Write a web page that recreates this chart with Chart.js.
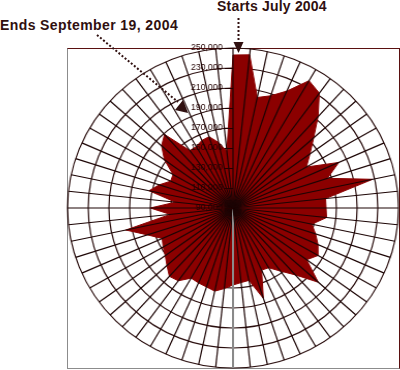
<!DOCTYPE html>
<html>
<head>
<meta charset="utf-8">
<script src="https://cdn.jsdelivr.net/npm/chart.js@4.4.1/dist/chart.umd.min.js"></script>
<style>
  body { margin: 0; width: 400px; height: 370px; background: #fff; position: relative; overflow: hidden; font-family: Arial, "Liberation Sans", sans-serif; }
  .frame { position: absolute; left: 67px; top: 48px; width: 331px; height: 319px;
           border-top: 1px solid #5a1010; border-right: 1px solid #5a1010;
           border-left: 1px solid #8c8c8c; border-bottom: 1px solid #8c8c8c; }
  .wrap { position: absolute; left: 62.5px; top: 38px; width: 340px; height: 340px;
          transform: scaleX(1.034); transform-origin: 170px 170px; }
  .note { position: absolute; font-weight: bold; font-size: 14px; color: #301010; white-space: nowrap; line-height: 14px; }
  svg { position: absolute; left: 0; top: 0; }
</style>
</head>
<body>
<div class="frame"></div>
<div class="wrap"><canvas id="chart"></canvas></div>
<div class="note" style="left:217px; top:-1px; letter-spacing:0.2px;">Starts July 2004</div>
<div class="note" style="left:0px; top:18px; letter-spacing:0.4px;">Ends September 19, 2004</div>
<svg width="400" height="370">
  <line x1="238.5" y1="18" x2="238.5" y2="42" stroke="#301010" stroke-width="2" stroke-dasharray="2 2"/>
  <polygon points="233.5,42 243.5,42 238.5,53" fill="#301010"/>
  <line x1="97" y1="35" x2="178" y2="102" stroke="#301010" stroke-width="2" stroke-dasharray="2 2"/>
  <polygon points="188,113 175,110 183,100" fill="#301010"/>
</svg>
<script>
// 60 periods from July 2004 to Sept 19, 2004 (clockwise from the top)
const periods = ['1','2','3','4','5','6','7','8','9','10','11','12','13','14','15','16','17','18','19','20',
  '21','22','23','24','25','26','27','28','29','30','31','32','33','34','35','36','37','38','39','40',
  '41','42','43','44','45','46','47','48','49','50','51','52','53','54','55','56','57','58','59','60'];

const values = [
  243000, 244000, 203000, 208000, 218000, 237000, 232000, 213000, 195000, 182000,
  172000, 202000, 186000, 228000, 180000, 180000, 181000, 168000, 174000, 180000,
  185000, 178000, 201000, 180000, 168000, 159000, 158000, 185000, 164000, 165000,
  167000, 171000, 175000, 173000, 172000, 171000, 180000, 182000, 176000, 171000,
  168000, 165000, 177000, 196000, 151000, 170000, 146000, 173000, 165000, 156000,
  157000, 172000, 183000, 189000, 161000, 161000, 164000, 165000, 157000, 147000
];

const axisMin = 90000;
const axisMax = 250000;
const axisStep = 20000;

const ringColor = '#2a0e0e';
const spokeColor = '#1c0404';
const fillColor = '#8b0000';

// value labels sit left of the vertical axis, on top of the fill
const tickLabels = {
  id: 'tickLabels',
  afterDraw(chart) {
    const scale = chart.scales.r;
    const ctx = chart.ctx;
    ctx.save();
    ctx.font = '8.5px Arial, "Liberation Sans", sans-serif';
    ctx.fillStyle = '#220000';
    ctx.strokeStyle = '#220000';
    ctx.lineWidth = 1;
    ctx.textAlign = 'right';
    ctx.textBaseline = 'middle';
    scale.ticks.forEach((t) => {
      const y = Math.round(scale.yCenter - scale.getDistanceFromCenterForValue(t.value));
      ctx.fillText(t.label, scale.xCenter - 10, y);
      ctx.beginPath();
      ctx.moveTo(scale.xCenter - 8, y + 0.5);
      ctx.lineTo(scale.xCenter, y + 0.5);
      ctx.stroke();
    });
    ctx.restore();
  }
};

Chart.defaults.font.family = 'Arial, "Liberation Sans", sans-serif';

new Chart(document.getElementById('chart'), {
  type: 'radar',
  data: {
    labels: periods,
    datasets: [{
      data: values,
      fill: true,
      backgroundColor: fillColor,
      borderColor: fillColor,
      borderWidth: 1,
      pointRadius: 0,
      tension: 0
    }]
  },
  options: {
    responsive: true,
    maintainAspectRatio: false,
    animation: false,
    devicePixelRatio: 1,
    layout: { padding: 10 },
    plugins: { legend: { display: false }, tooltip: { enabled: false } },
    scales: {
      // rings, drawn under the fill
      r: {
        min: axisMin,
        max: axisMax,
        ticks: { stepSize: axisStep, display: false },
        grid: { circular: true, color: ringColor, lineWidth: 1.2 },
        angleLines: { display: false },
        pointLabels: { display: false }
      },
      // spokes, drawn over the fill
      spokes: {
        type: 'radialLinear',
        axis: 'r',
        min: axisMin,
        max: axisMax,
        ticks: { stepSize: axisStep, display: false },
        grid: { display: false, z: 1 },
        angleLines: {
          display: true,
          color: (c) => (c.index === 30 ? '#8a8a8a' : spokeColor),
          lineWidth: (c) => (c.index === 30 ? 2 : 1.2)
        },
        pointLabels: { display: false }
      }
    }
  },
  plugins: [tickLabels]
});
</script>
</body>
</html>
